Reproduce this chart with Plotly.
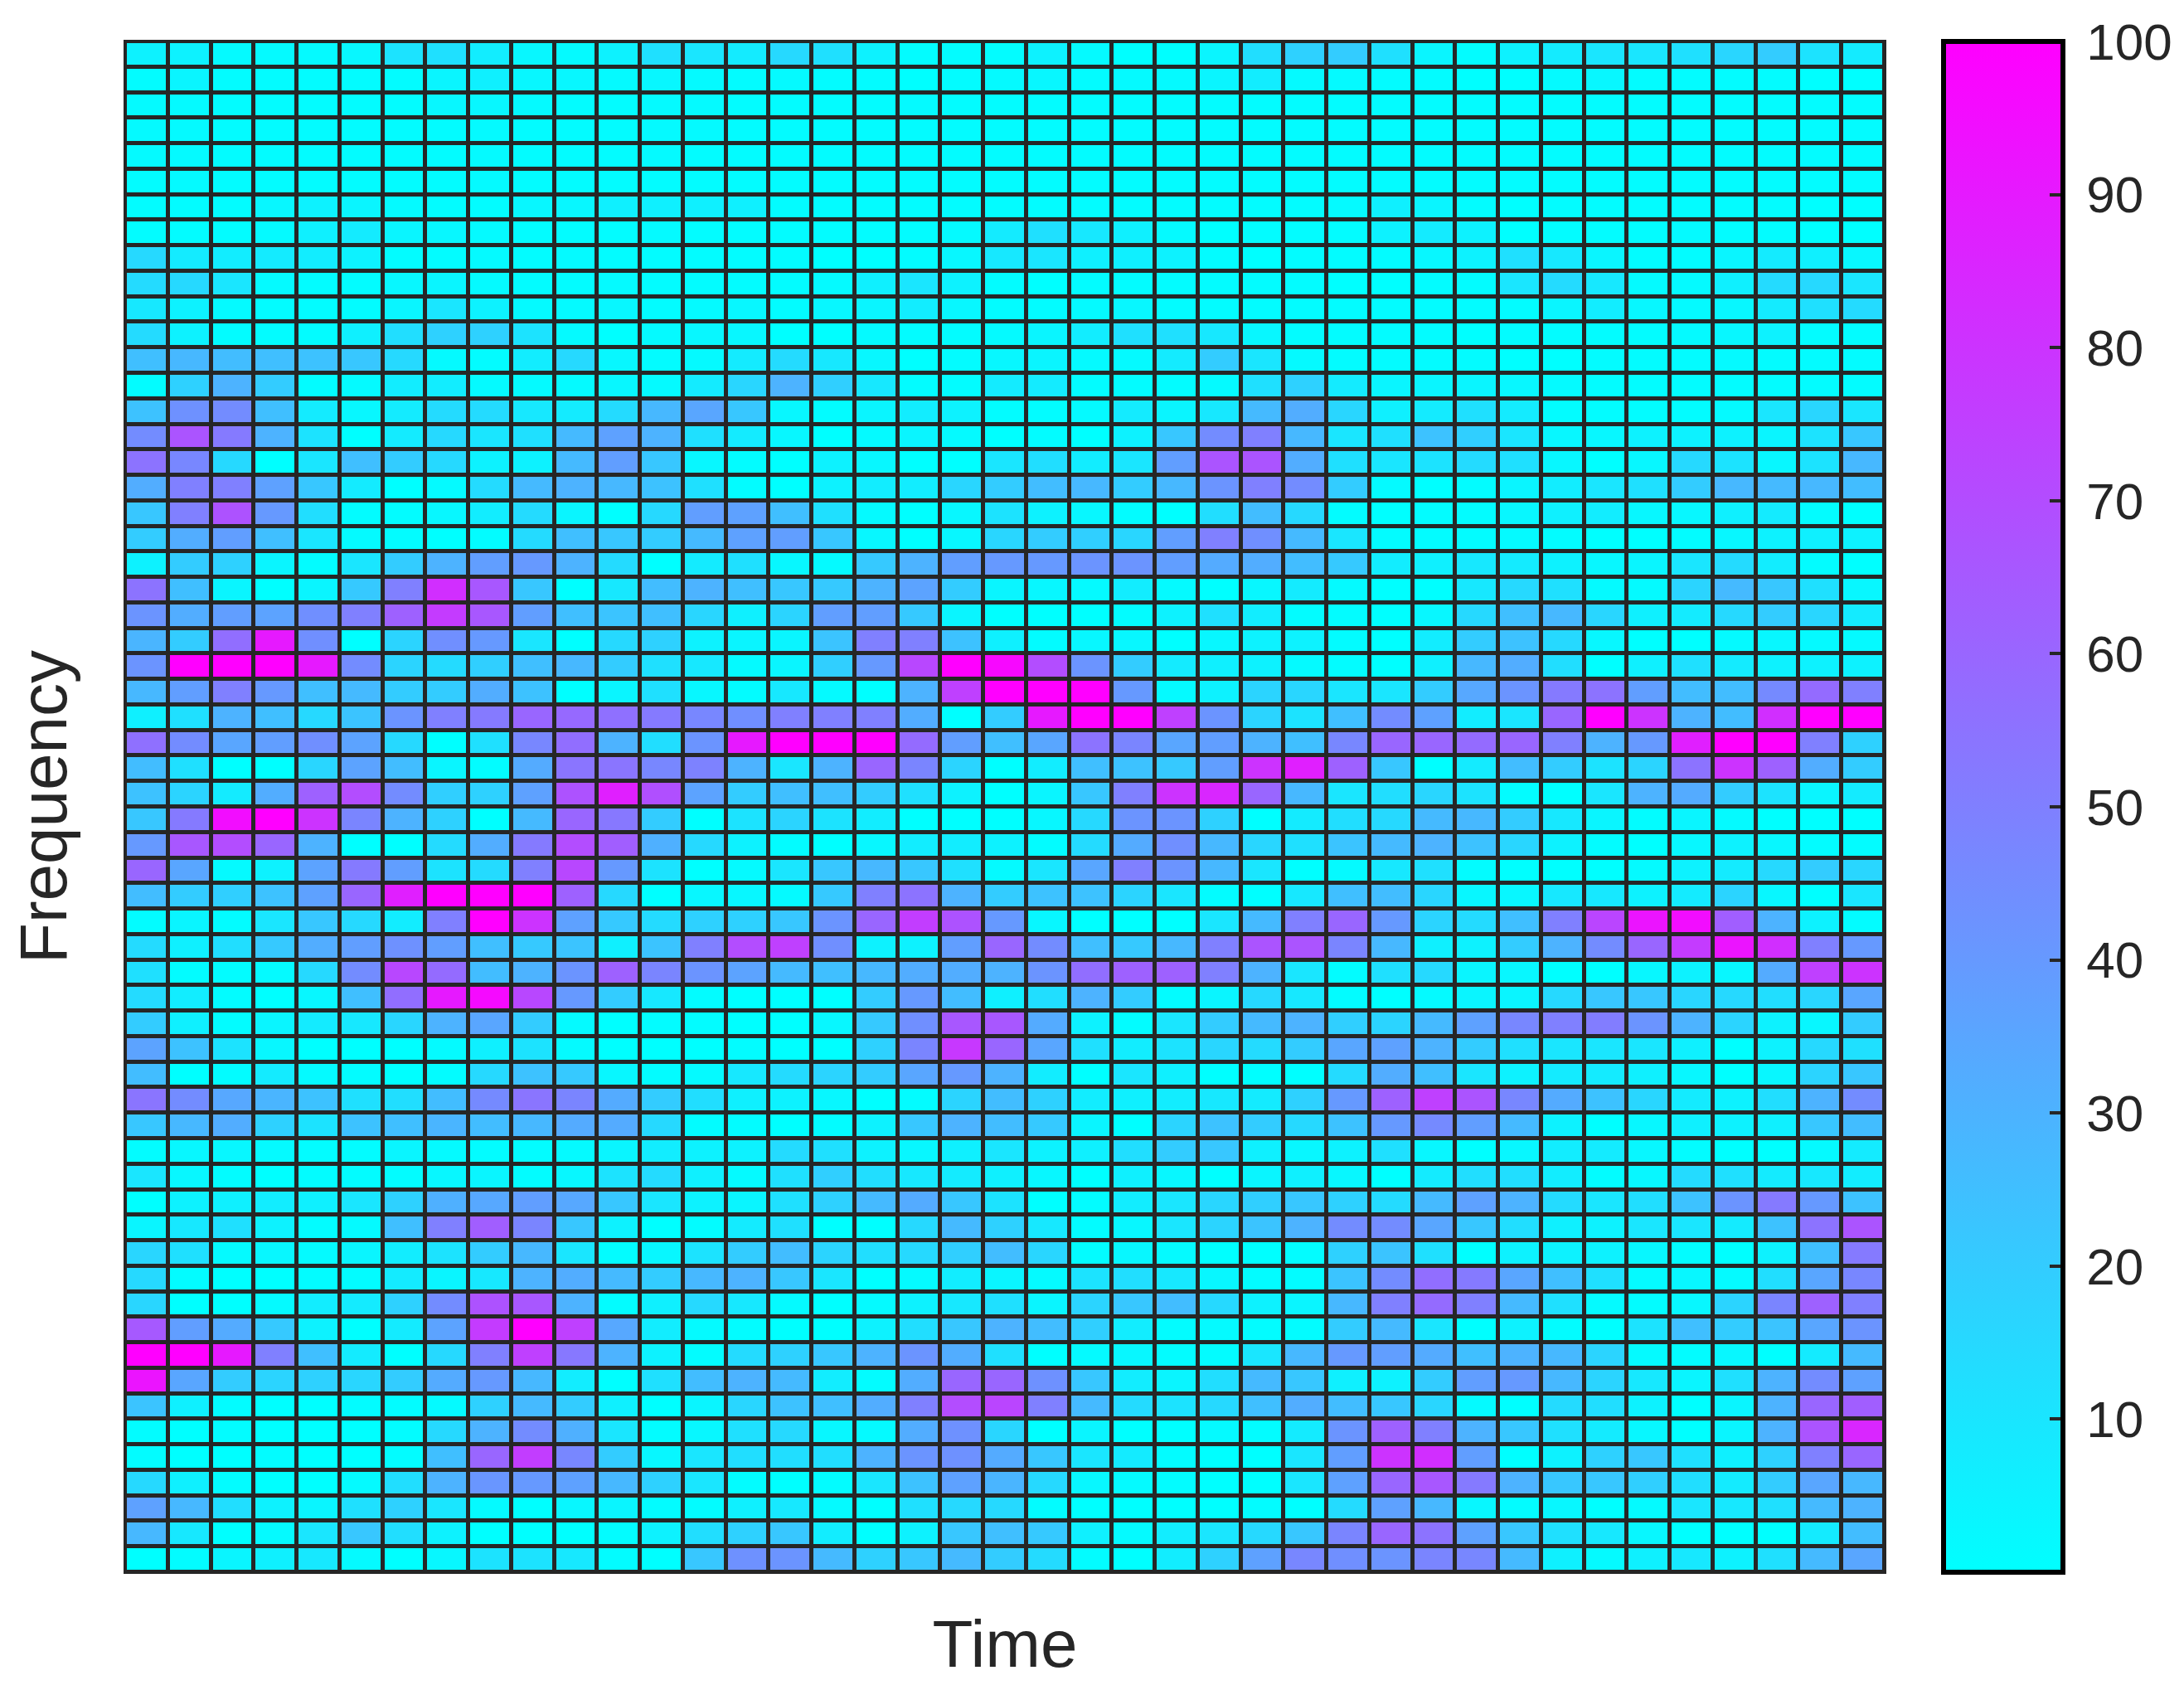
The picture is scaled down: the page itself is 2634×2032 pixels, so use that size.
import plotly.graph_objects as go

# spectrogram intensity, rows from top (high frequency) to bottom, 41 time bins
intensity = [
    [5,5,2,2,2,3,11,12,7,3,2,5,12,10,8,15,12,5,1,1,1,5,2,0,0,4,13,18,20,12,4,1,5,8,10,10,12,16,20,11,8],
    [1,4,1,1,1,1,1,4,6,3,3,2,3,2,1,2,1,1,0,1,2,3,1,2,2,4,7,2,2,1,1,0,0,2,3,1,1,1,1,0,0],
    [2,2,1,1,1,1,1,3,3,2,1,1,2,2,1,1,1,1,2,1,1,1,1,1,1,1,1,1,1,1,1,1,1,1,1,1,1,1,1,1,1],
    [2,2,1,1,1,1,1,1,2,1,1,1,2,2,1,1,1,1,1,1,1,1,1,1,1,1,1,1,1,1,1,1,1,1,1,1,1,1,1,1,1],
    [2,2,1,1,1,1,1,1,2,1,1,1,2,1,1,1,1,1,1,1,1,1,1,1,1,1,1,1,1,1,1,1,1,1,1,1,1,1,1,1,1],
    [1,2,1,1,1,1,1,1,2,1,1,1,1,1,1,1,1,1,1,1,1,1,1,1,1,1,1,1,1,1,1,1,1,1,1,1,1,1,1,1,1],
    [1,1,1,3,5,4,2,1,1,3,3,6,6,6,6,1,1,1,1,1,1,1,1,1,1,1,1,1,2,6,4,1,0,1,1,1,1,1,1,0,0],
    [1,1,1,2,6,8,4,3,2,1,1,1,2,1,1,1,1,1,1,2,8,12,9,6,2,0,1,1,1,5,8,5,0,1,1,1,2,1,1,0,0],
    [15,8,7,8,7,5,1,1,2,1,2,1,1,1,1,1,0,0,1,3,9,10,6,6,5,1,0,1,1,1,3,5,12,9,4,1,1,4,8,6,3],
    [14,15,10,2,1,1,3,4,2,1,1,2,1,1,1,1,2,6,10,5,1,0,1,1,1,1,1,1,0,0,1,1,10,14,9,2,2,6,14,15,10],
    [9,5,2,1,1,1,4,10,5,2,2,3,1,2,3,1,3,4,7,3,1,1,2,3,1,1,1,1,1,1,1,1,1,4,7,3,2,3,8,12,14],
    [14,5,1,1,1,6,13,18,18,11,2,0,2,3,3,0,0,2,1,1,2,4,7,12,12,9,3,1,1,1,1,0,1,1,1,1,2,3,5,1,1],
    [25,28,26,25,24,22,15,2,1,7,15,3,1,2,8,14,9,3,0,1,3,4,2,2,8,20,10,2,1,1,1,1,0,0,1,1,1,2,1,1,1],
    [1,18,30,20,1,2,7,7,2,2,2,3,2,8,16,30,19,9,1,1,8,8,1,1,1,2,12,18,8,4,4,4,3,2,1,1,1,1,1,1,1],
    [24,43,45,25,8,3,8,14,14,9,8,14,28,35,22,3,1,4,7,5,1,1,2,8,4,9,27,32,16,6,8,12,8,1,1,1,1,2,10,16,10],
    [45,67,52,30,11,0,8,15,10,12,27,37,30,12,8,3,0,2,4,2,0,1,0,5,22,45,50,28,10,12,24,19,10,3,3,5,5,5,4,11,22],
    [55,47,15,0,10,25,20,15,5,5,27,38,22,3,1,0,5,3,0,0,10,13,7,10,38,67,67,32,12,10,11,14,12,3,0,3,15,11,3,11,28],
    [32,50,50,37,22,8,0,2,14,27,30,28,24,12,1,0,5,7,7,16,20,26,28,20,28,42,50,45,20,2,0,1,4,7,10,12,20,28,27,28,26],
    [22,50,68,40,13,1,1,3,7,14,4,0,15,38,37,25,12,2,0,3,11,5,3,1,0,13,26,15,1,0,1,1,3,6,7,3,3,6,8,1,0],
    [20,32,38,25,10,2,1,0,1,14,25,22,20,27,37,38,22,3,0,3,16,20,19,16,38,50,44,27,10,1,1,1,2,1,0,0,1,3,5,6,5],
    [5,20,18,4,1,10,20,30,38,40,30,14,0,8,12,3,2,21,30,38,40,40,42,42,38,33,32,26,21,7,6,9,8,5,3,4,10,14,7,1,0],
    [55,25,4,0,4,21,50,82,66,22,0,9,26,30,25,22,21,30,36,20,4,3,2,7,2,0,3,8,2,0,0,9,15,12,2,2,17,27,22,12,3],
    [42,32,38,36,44,50,62,77,66,38,25,23,25,16,6,17,38,38,21,4,0,0,0,1,5,12,7,1,1,0,3,15,25,28,16,6,8,15,20,16,8],
    [29,20,57,90,44,0,17,44,40,10,0,15,18,5,4,4,23,50,50,24,6,1,3,3,0,3,5,5,1,0,7,20,24,15,3,0,0,2,3,2,2],
    [42,100,100,100,90,45,17,14,19,25,28,20,12,9,2,4,19,40,72,100,97,70,42,20,8,6,5,2,1,0,6,28,32,13,0,6,12,8,5,5,5],
    [28,38,50,40,25,27,20,20,32,24,0,4,12,3,1,9,2,0,30,75,100,100,100,40,2,5,17,16,10,10,20,34,42,52,55,38,26,26,46,58,50],
    [6,12,30,25,15,23,42,50,52,60,59,56,52,47,44,50,50,50,32,0,20,90,100,100,75,42,17,11,25,45,37,7,10,60,100,80,30,26,82,100,100],
    [56,45,35,38,44,36,15,0,12,47,57,30,13,42,90,100,100,100,58,38,25,35,55,48,35,38,30,25,47,60,60,58,60,50,30,40,88,100,100,50,18],
    [26,12,0,0,16,36,26,4,1,33,54,54,47,49,30,10,30,60,48,17,0,7,25,24,21,38,80,88,62,22,0,8,26,20,11,17,55,80,62,32,20],
    [24,17,8,32,62,70,45,19,18,37,68,88,69,36,20,25,25,20,12,5,0,4,22,50,80,85,60,28,10,13,16,11,1,0,10,30,33,20,11,4,8],
    [22,52,95,100,80,48,30,18,0,27,60,53,20,0,11,17,11,7,0,0,0,3,15,42,42,18,0,8,13,15,27,28,20,9,4,1,4,2,0,0,0],
    [40,66,70,60,30,0,0,14,32,52,70,63,31,15,5,1,0,3,7,7,5,1,14,33,44,28,16,12,23,27,30,24,16,5,1,0,3,5,3,1,1],
    [60,35,2,5,36,52,38,11,14,50,72,40,11,0,2,10,22,28,22,12,2,10,35,50,42,28,10,0,2,9,12,1,0,0,0,2,5,8,15,20,16],
    [26,20,19,24,37,60,88,100,100,100,62,15,0,3,3,2,21,50,55,30,20,24,24,17,10,1,0,9,25,26,16,3,3,9,9,5,8,17,3,0,10],
    [1,4,1,10,22,15,7,50,100,80,37,21,14,18,18,22,42,60,76,68,40,3,0,0,0,10,27,50,60,40,17,14,25,50,73,92,95,63,30,5,1],
    [14,6,13,21,32,38,43,38,25,21,23,6,23,50,70,75,44,5,5,38,60,45,25,21,28,50,67,67,48,28,6,5,20,30,45,60,77,92,82,50,40],
    [12,1,1,2,15,45,72,58,26,30,42,62,48,42,36,27,25,28,32,32,30,42,57,62,62,50,30,10,1,12,15,4,3,0,0,3,5,3,33,75,80],
    [14,7,1,0,3,25,57,90,96,72,40,20,9,1,0,0,0,20,40,26,6,13,30,20,1,4,15,9,1,0,2,4,4,15,22,22,16,15,13,16,35],
    [20,6,1,4,8,9,16,30,35,20,2,0,1,1,0,0,3,21,44,66,66,33,5,1,10,20,27,30,19,17,27,37,47,50,51,42,30,17,5,3,20],
    [36,24,11,3,0,0,0,2,6,11,2,0,0,0,1,0,0,18,48,78,60,35,12,7,11,16,14,20,35,37,30,20,12,10,10,10,6,0,5,15,12],
    [26,0,1,8,2,1,0,1,15,24,21,3,1,2,9,14,17,20,35,40,30,7,0,10,6,0,0,0,14,32,25,10,5,8,8,6,3,0,3,17,22],
    [54,45,34,29,24,12,13,26,46,54,48,33,20,13,6,5,3,0,1,17,26,18,7,6,7,9,8,18,40,62,75,67,47,33,24,16,8,5,13,30,45],
    [22,28,32,18,11,24,25,29,26,28,33,33,15,1,1,0,1,5,22,30,26,21,4,0,17,24,20,15,24,40,46,38,27,5,0,3,6,5,6,22,26],
    [1,3,3,2,1,1,4,2,1,1,2,4,7,5,5,14,12,5,3,6,10,5,6,13,20,22,6,3,5,12,3,0,3,7,8,3,1,0,0,2,8],
    [10,3,1,0,1,1,1,3,4,1,3,11,14,6,2,12,19,13,9,8,6,3,0,6,3,0,4,6,3,0,8,13,13,7,1,3,14,12,8,9,7],
    [0,5,6,7,6,10,18,31,34,38,34,22,10,5,4,12,18,27,33,22,11,0,1,7,10,16,19,22,18,14,27,37,30,14,10,13,24,42,52,40,24],
    [4,9,12,5,1,2,25,50,63,48,22,5,0,1,8,12,0,0,15,27,18,9,1,3,10,17,23,30,45,45,35,22,13,6,5,10,10,8,24,55,67],
    [16,12,2,3,2,4,7,11,20,28,10,1,3,11,20,26,17,13,15,19,26,16,1,3,2,0,0,1,18,23,12,0,5,5,5,3,1,0,5,25,52],
    [15,1,0,0,1,1,8,4,9,30,32,27,20,28,30,22,10,0,2,7,4,2,11,13,9,3,1,1,23,45,57,52,35,25,12,2,3,2,13,35,47],
    [16,0,0,2,7,8,18,45,68,66,30,1,6,15,9,2,0,2,5,9,12,4,17,22,26,15,5,4,28,50,58,50,27,12,2,1,3,17,48,62,50],
    [65,38,33,21,5,0,8,36,77,100,75,34,7,2,1,0,0,5,13,22,30,26,19,7,1,2,1,1,20,27,10,0,5,1,0,11,25,20,23,35,42],
    [100,100,90,50,25,8,0,15,50,75,53,30,5,1,14,18,22,30,42,32,12,0,2,3,1,1,10,28,40,38,33,25,30,28,17,2,1,3,0,8,27],
    [92,35,20,17,18,16,20,33,40,28,7,0,12,26,30,27,7,1,32,60,60,43,22,7,4,13,27,22,6,5,20,38,40,28,17,9,4,12,30,45,37],
    [23,6,1,0,0,1,1,2,18,27,20,6,0,4,16,24,25,32,50,70,73,50,27,14,11,15,25,32,26,22,16,2,0,14,13,5,0,4,30,60,63],
    [1,0,1,0,0,0,1,15,30,45,31,10,1,3,12,15,3,2,32,43,16,0,4,0,0,2,1,8,42,62,50,30,22,12,8,3,0,4,30,67,85],
    [1,0,0,1,0,0,1,25,60,76,47,20,3,10,13,13,13,30,42,43,33,22,10,8,1,0,0,10,38,80,82,38,0,5,18,22,12,6,18,50,60],
    [15,6,1,0,0,2,13,30,41,40,37,28,18,10,1,0,1,10,24,37,29,15,3,2,1,0,0,10,37,60,66,52,30,22,22,19,13,8,20,35,28],
    [37,28,13,5,4,12,18,10,2,0,3,4,1,1,6,9,2,0,12,15,15,1,0,0,0,0,1,0,14,37,28,3,1,3,0,2,10,9,12,27,30],
    [28,9,0,2,10,22,13,5,0,0,0,1,5,13,18,22,7,0,5,22,25,21,6,2,7,10,15,22,48,60,55,37,22,12,9,3,0,0,0,8,26],
    [0,1,4,6,9,2,0,3,11,11,9,1,0,22,43,42,27,18,22,27,20,14,1,0,7,18,37,47,44,42,48,47,27,6,2,6,9,5,12,27,35],
]
bar_ticks = [10, 20, 30, 40, 50, 60, 70, 80, 90, 100]

for row in intensity:
    assert len(row) == 41

ink = "#262626"

fig = go.Figure()
fig.add_trace(go.Heatmap(
    z=intensity,
    zmin=0,
    zmax=100,
    xgap=5,
    ygap=5,
    colorscale=[[0, "#00ffff"], [1, "#ff00ff"]],
    colorbar=dict(
        x=1.0333,
        xanchor="left",
        xpad=0,
        y=0.5,
        yanchor="middle",
        ypad=0,
        len=1,
        thickness=144,
        outlinecolor="black",
        outlinewidth=6,
        tickmode="array",
        tickvals=bar_ticks,
        # thin space pushes the labels away from the bar
        ticktext=["\u2009" + str(t) for t in bar_ticks],
        ticks="inside",
        ticklen=19,
        tickwidth=4,
        tickcolor=ink,
        tickfont=dict(family="Liberation Sans", size=62, color=ink),
    ),
))

fig.update_xaxes(title=dict(text="Time", font=dict(size=80, color=ink), standoff=57),
                 showticklabels=False, ticks="", showgrid=False, zeroline=False,
                 showline=True, mirror=True, linecolor=ink, linewidth=2)
fig.update_yaxes(title=dict(text="Frequency", font=dict(size=80, color=ink), standoff=43),
                 showticklabels=False, ticks="", showgrid=False, zeroline=False,
                 showline=True, mirror=True, linecolor=ink, linewidth=2,
                 autorange="reversed")

# the page body adds 8px on the left and top
fig.update_layout(
    width=2618,
    height=2022,
    margin=dict(l=143, r=353, t=42, b=134, autoexpand=False),
    font=dict(family="Liberation Sans", color=ink),
    paper_bgcolor="white",
    plot_bgcolor=ink,
)

fig.write_html("out.html")
